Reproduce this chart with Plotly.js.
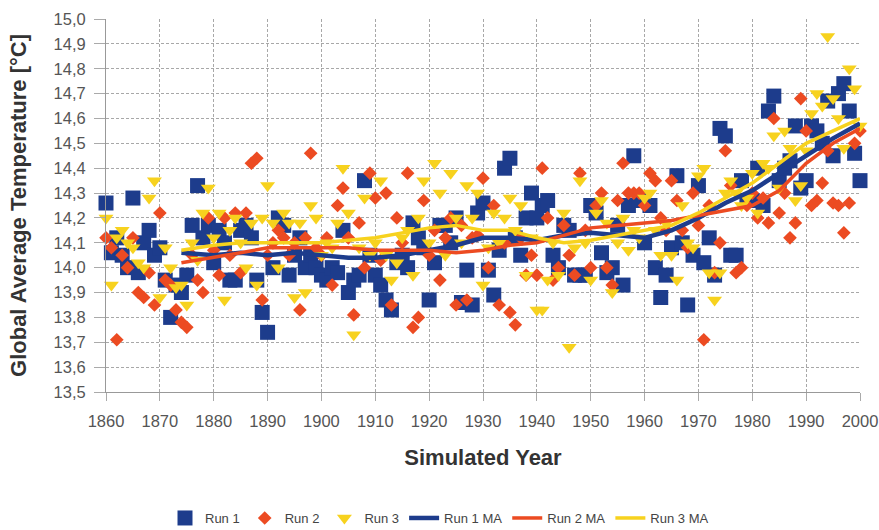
<!DOCTYPE html>
<html><head><meta charset="utf-8">
<script src="https://cdn.plot.ly/plotly-3.0.1.min.js"></script>
<style>html,body{margin:0;padding:0;background:#fff}#chart{width:879px;height:530px}</style>
</head><body><div id="chart"></div>
<script>
const startYear = 1860;
const years = Array.from({length: 141}, (_, i) => startYear + i);

const run1 = [14.26,14.06,14.12,14.05,14.00,14.28,13.98,14.10,14.15,14.05,
14.08,13.95,13.80,13.93,13.90,13.97,14.17,14.33,14.12,14.17,
14.02,14.15,14.10,13.95,13.95,14.15,14.17,14.12,13.95,13.82,
13.74,14.00,14.20,14.17,13.97,14.05,14.12,14.00,14.05,14.00,
13.97,13.95,14.00,13.98,14.15,13.90,13.95,13.97,14.35,14.05,
13.97,13.93,13.87,13.83,14.02,14.05,14.00,14.18,14.12,14.08,
13.87,14.02,14.17,14.17,14.10,14.20,13.86,13.99,13.85,14.22,
14.26,13.99,13.89,14.07,14.40,14.44,14.12,14.05,14.20,14.30,
14.20,14.25,14.27,14.05,14.00,14.17,14.15,13.97,13.97,13.97,
14.25,14.22,14.06,13.98,14.00,14.17,13.93,14.25,14.45,14.27,
14.10,14.25,14.00,13.88,13.97,14.08,14.37,14.10,13.85,14.05,
14.33,14.02,14.12,13.97,14.56,14.53,14.05,14.05,14.35,14.27,
14.27,14.40,14.25,14.63,14.69,14.35,14.40,14.43,14.57,14.32,
14.35,14.57,14.55,14.50,14.67,14.45,14.70,14.74,14.63,14.46,
14.35];

const run2 = [14.12,14.08,13.71,14.05,14.00,14.12,13.90,13.88,13.98,13.85,
14.22,13.95,13.93,13.83,13.78,13.76,14.05,13.95,13.90,14.20,
14.07,13.97,14.20,14.05,14.22,13.98,14.22,14.42,14.44,13.87,
14.05,14.10,14.15,14.12,14.05,14.10,13.83,14.12,14.46,14.08,
14.05,14.12,13.93,14.25,14.32,14.12,13.81,14.18,14.00,14.38,
14.28,14.03,14.30,13.85,14.20,14.10,14.38,13.76,13.80,14.27,
14.05,14.15,13.95,14.12,14.20,13.85,14.17,13.87,14.12,14.13,
14.36,14.00,14.25,13.85,14.10,13.82,13.77,14.12,13.97,14.05,
13.97,14.40,14.20,13.95,14.00,14.17,14.05,13.97,14.38,14.15,
14.00,14.25,14.30,14.00,13.93,14.27,14.42,14.30,14.30,14.30,
14.25,14.38,14.35,14.20,14.15,14.35,14.27,14.15,14.08,14.30,
14.17,13.71,14.25,13.98,14.10,14.47,14.33,13.98,14.00,14.25,
14.30,14.20,14.28,14.18,14.60,14.22,14.30,14.12,14.18,14.68,
14.55,14.25,14.27,14.34,14.47,14.26,14.25,14.14,14.26,14.50,
14.55];

const run3 = [14.20,13.93,14.12,14.15,14.10,14.08,14.02,14.00,14.28,14.35,
13.88,14.08,14.00,13.92,13.93,13.85,14.10,14.03,14.22,14.32,
14.12,14.22,13.87,14.15,14.20,14.10,14.00,14.18,13.93,14.20,
14.33,14.18,14.00,14.22,14.18,13.88,14.18,13.90,14.25,14.20,
14.05,14.10,14.08,14.18,14.40,14.22,13.73,14.08,14.28,14.05,
14.10,14.35,14.05,13.95,14.02,14.12,14.15,13.97,14.20,14.35,
14.10,14.42,14.30,14.05,14.38,14.20,14.10,14.33,14.20,14.30,
13.93,14.08,14.22,14.10,14.20,14.28,14.15,14.25,13.97,14.12,
13.83,13.83,13.95,14.10,13.97,14.22,13.68,14.08,14.35,14.10,
13.95,14.22,14.27,14.18,13.90,14.10,14.20,14.07,14.15,14.12,
14.28,14.30,14.15,14.05,14.18,14.05,13.95,14.25,14.10,14.08,
14.37,14.40,13.98,13.87,13.98,14.30,14.35,14.30,14.25,14.28,
14.38,14.22,14.42,14.40,14.53,14.32,14.55,14.48,14.27,14.33,
14.47,14.62,14.70,14.65,14.93,14.68,14.60,14.48,14.80,14.72,
14.57];

const maYears = [1874,1880,1885,1890,1895,1900,1905,1910,1915,1920,1925,1930,1935,1940,1945,1950,1955,1960,1965,1970,1975,1980,1985,1990,1995,2000];
const run1MA = [14.06,14.05,14.06,14.05,14.06,14.05,14.04,14.04,14.05,14.07,14.09,14.12,14.12,14.11,14.13,14.14,14.13,14.12,14.15,14.20,14.26,14.31,14.38,14.45,14.52,14.58];
const run2MA = [14.02,14.04,14.06,14.08,14.08,14.08,14.08,14.07,14.07,14.07,14.06,14.07,14.09,14.10,14.13,14.16,14.17,14.18,14.19,14.21,14.23,14.25,14.31,14.42,14.50,14.56];
const run3MA = [14.07,14.09,14.10,14.10,14.10,14.10,14.11,14.12,14.14,14.16,14.17,14.15,14.15,14.12,14.10,14.11,14.13,14.15,14.17,14.22,14.28,14.34,14.42,14.50,14.55,14.60];

const seriesNames = ['Run 1','Run 2','Run 3','Run 1 MA','Run 2 MA','Run 3 MA'];
const xTicks = [1860,1870,1880,1890,1900,1910,1920,1930,1940,1950,1960,1970,1980,1990,2000];

const BLUE = '#1d3c8c', RED = '#ec4b22', YEL = '#f7d21e';
const FONT = 'Liberation Sans, Arial, sans-serif';

const traces = [
  {x: years, y: run1, name: seriesNames[0], type: 'scatter', mode: 'markers', cliponaxis: false,
   marker: {symbol: 'square', size: 15, color: BLUE}},
  {x: years, y: run2, name: seriesNames[1], type: 'scatter', mode: 'markers', cliponaxis: false,
   marker: {symbol: 'diamond', size: 10.5, color: RED}},
  {x: years, y: run3, name: seriesNames[2], type: 'scatter', mode: 'markers', cliponaxis: false,
   marker: {symbol: 'triangle-down', size: 13, color: YEL}},
  {x: maYears, y: run1MA, name: seriesNames[3], type: 'scatter', mode: 'lines',
   line: {color: BLUE, width: 4.5}},
  {x: maYears, y: run2MA, name: seriesNames[4], type: 'scatter', mode: 'lines',
   line: {color: RED, width: 3.5}},
  {x: maYears, y: run3MA, name: seriesNames[5], type: 'scatter', mode: 'lines',
   line: {color: YEL, width: 3.5}}
];

const layout = {
  width: 879, height: 530,
  margin: {l: 106, r: 19, t: 19, b: 138},
  paper_bgcolor: '#fff', plot_bgcolor: '#fff',
  separators: ', ',
  font: {family: FONT, color: '#555', size: 12},
  showlegend: true,
  legend: {orientation: 'h', x: 0.5, xref: 'container', xanchor: 'center',
    y: 0.0226, yref: 'container', yanchor: 'middle',
    font: {size: 13, color: '#444'}, itemwidth: 30, tracegroupgap: 0},
  xaxis: {
    range: [1860, 2000], tickvals: xTicks, ticktext: xTicks.map(String),
    showgrid: true, gridcolor: '#a8a8a8', griddash: '3px,2px', gridwidth: 1,
    zeroline: false, showline: true, linecolor: '#999', ticks: 'outside', ticklen: 8, tickcolor: '#aaa',
    ticklabelstandoff: 6, automargin: false,
    tickfont: {size: 16.5, color: '#555'},
    title: {text: 'Simulated Year', font: {size: 22, color: '#333', family: FONT, weight: 'bold'}, standoff: 20}
  },
  yaxis: {
    range: [13.5, 15.0], dtick: 0.1, tick0: 13.5, tickformat: '.1f',
    showgrid: true, gridcolor: '#a8a8a8', griddash: '3px,2px', gridwidth: 1,
    zeroline: false, showline: true, linecolor: '#999', ticks: 'outside', ticklen: 11, tickcolor: '#aaa',
    ticklabelstandoff: 5, automargin: false,
    tickfont: {size: 16.5, color: '#555'},
    title: {text: 'Global Average Temperature [°C]', font: {size: 22, color: '#333', family: FONT, weight: 'bold'}, standoff: 20}
  }
};

Plotly.newPlot('chart', traces, layout, {displayModeBar: false, staticPlot: true});
</script>
</body></html>
